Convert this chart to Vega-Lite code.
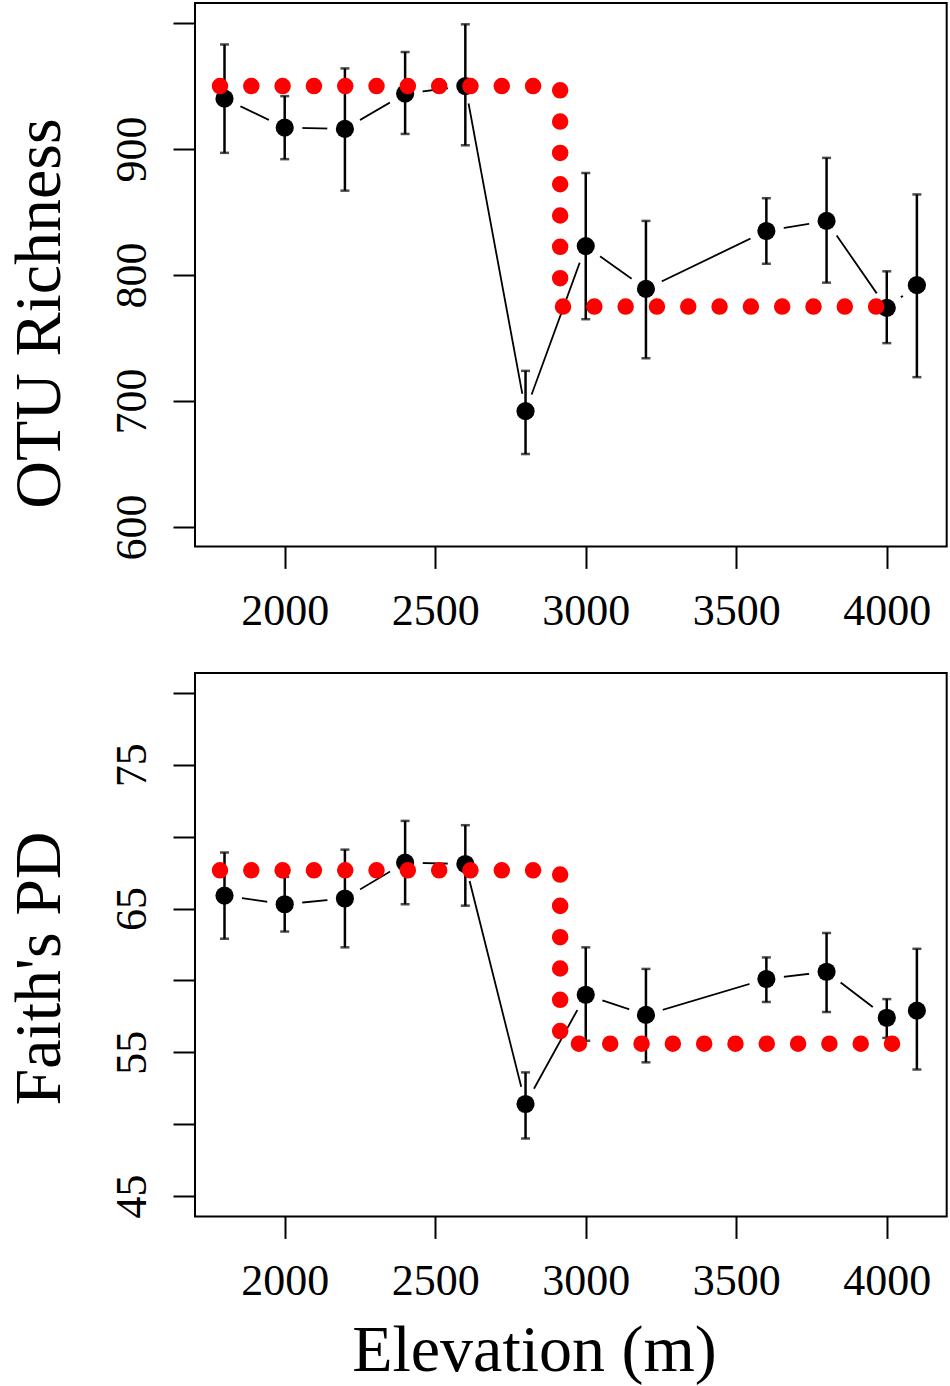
{
  "$schema": "https://vega.github.io/schema/vega-lite/v6.json",
  "background": "white",
  "padding": {"left": 6, "top": 2, "right": 2, "bottom": 0},
  "datasets": {
    "otu": [
      {"elev": 1800, "val": 940, "lo": 897, "hi": 983},
      {"elev": 2000, "val": 917, "lo": 892, "hi": 942},
      {"elev": 2200, "val": 916, "lo": 867, "hi": 964},
      {"elev": 2400, "val": 944, "lo": 912, "hi": 977},
      {"elev": 2600, "val": 950, "lo": 903, "hi": 999},
      {"elev": 2800, "val": 692, "lo": 658, "hi": 724},
      {"elev": 3000, "val": 823, "lo": 765, "hi": 881},
      {"elev": 3200, "val": 789, "lo": 734, "hi": 843},
      {"elev": 3600, "val": 835, "lo": 809, "hi": 861},
      {"elev": 3800, "val": 843, "lo": 794, "hi": 893},
      {"elev": 4000, "val": 774, "lo": 746, "hi": 803},
      {"elev": 4100, "val": 792, "lo": 719, "hi": 864}
    ],
    "pd": [
      {"elev": 1800, "val": 65.9, "lo": 62.9, "hi": 68.9},
      {"elev": 2000, "val": 65.3, "lo": 63.4, "hi": 67.2},
      {"elev": 2200, "val": 65.7, "lo": 62.3, "hi": 69.1},
      {"elev": 2400, "val": 68.2, "lo": 65.3, "hi": 71.1},
      {"elev": 2600, "val": 68.1, "lo": 65.2, "hi": 70.8},
      {"elev": 2800, "val": 51.4, "lo": 49.0, "hi": 53.6},
      {"elev": 3000, "val": 59.0, "lo": 55.8, "hi": 62.3},
      {"elev": 3200, "val": 57.6, "lo": 54.3, "hi": 60.8},
      {"elev": 3600, "val": 60.1, "lo": 58.5, "hi": 61.6},
      {"elev": 3800, "val": 60.6, "lo": 57.8, "hi": 63.3},
      {"elev": 4000, "val": 57.4, "lo": 56.0, "hi": 58.7},
      {"elev": 4100, "val": 57.9, "lo": 53.8, "hi": 62.2}
    ],
    "otustep": [
      {"step": 1, "elev": 1785, "val": 950},
      {"step": 2, "elev": 2915, "val": 950},
      {"step": 3, "elev": 2915, "val": 775},
      {"step": 4, "elev": 4000, "val": 775}
    ],
    "pdstep": [
      {"step": 1, "elev": 1785, "val": 67.66},
      {"step": 2, "elev": 2915, "val": 67.66},
      {"step": 3, "elev": 2915, "val": 55.6},
      {"step": 4, "elev": 4040, "val": 55.6}
    ]
  },
  "vconcat": [
    {
      "width": 751.7,
      "height": 543.4,
      "encoding": {
        "x": {
          "field": "elev",
          "type": "quantitative",
          "scale": {"domain": [1702, 4199], "nice": false, "zero": false},
          "axis": {"values": [2000, 2500, 3000, 3500, 4000], "format": "d", "title": null}
        }
      },
      "layer": [
        {
          "data": {"name": "otu"},
          "mark": {"type": "line", "color": "black", "strokeWidth": 1.8},
          "encoding": {
            "y": {
              "field": "val",
              "type": "quantitative",
              "title": "OTU Richness",
              "scale": {"domain": [584.7, 1015.9], "nice": false, "zero": false},
              "axis": {
                "values": [600, 700, 800, 900, 1000],
                "labelExpr": "datum.value == 1000 ? '' : datum.label",
                "titleY": 310
              }
            }
          }
        },
        {
          "data": {"name": "otu"},
          "mark": {"type": "circle", "color": "white", "opacity": 1, "size": 1250},
          "encoding": {"y": {"field": "val", "type": "quantitative", "title": "OTU Richness"}}
        },
        {
          "data": {"name": "otu"},
          "mark": {
            "type": "errorbar",
            "color": "black",
            "rule": {"strokeWidth": 2.5},
            "ticks": {"size": 9, "thickness": 2.5, "color": "black"}
          },
          "encoding": {
            "y": {"field": "lo", "type": "quantitative", "title": "OTU Richness"},
            "y2": {"field": "hi"}
          }
        },
        {
          "data": {"name": "otu"},
          "mark": {"type": "circle", "color": "black", "opacity": 1, "size": 330},
          "encoding": {"y": {"field": "val", "type": "quantitative", "title": "OTU Richness"}}
        },
        {
          "data": {"name": "otustep"},
          "mark": {
            "type": "line",
            "color": "#ff0000",
            "strokeWidth": 16.5,
            "strokeCap": "round",
            "strokeDash": [0.01, 31.3]
          },
          "encoding": {
            "y": {"field": "val", "type": "quantitative", "title": "OTU Richness"},
            "order": {"field": "step"}
          }
        }
      ]
    },
    {
      "width": 751.7,
      "height": 543.4,
      "encoding": {
        "x": {
          "field": "elev",
          "type": "quantitative",
          "scale": {"domain": [1702, 4199], "nice": false, "zero": false},
          "axis": {
            "values": [2000, 2500, 3000, 3500, 4000],
            "format": "d",
            "title": "Elevation (m)",
            "titleX": 339,
            "titleY": 154,
            "titleAlign": "center",
            "titleBaseline": "alphabetic"
          }
        }
      },
      "layer": [
        {
          "data": {"name": "pd"},
          "mark": {"type": "line", "color": "black", "strokeWidth": 1.8},
          "encoding": {
            "y": {
              "field": "val",
              "type": "quantitative",
              "title": "Faith's PD",
              "scale": {"domain": [43.58, 81.39], "nice": false, "zero": false},
              "axis": {
                "values": [45, 50, 55, 60, 65, 70, 75, 80],
                "labelExpr": "datum.value % 10 == 5 ? datum.label : ''",
                "titleY": 295
              }
            }
          }
        },
        {
          "data": {"name": "pd"},
          "mark": {"type": "circle", "color": "white", "opacity": 1, "size": 1250},
          "encoding": {"y": {"field": "val", "type": "quantitative", "title": "Faith's PD"}}
        },
        {
          "data": {"name": "pd"},
          "mark": {
            "type": "errorbar",
            "color": "black",
            "rule": {"strokeWidth": 2.5},
            "ticks": {"size": 9, "thickness": 2.5, "color": "black"}
          },
          "encoding": {
            "y": {"field": "lo", "type": "quantitative", "title": "Faith's PD"},
            "y2": {"field": "hi"}
          }
        },
        {
          "data": {"name": "pd"},
          "mark": {"type": "circle", "color": "black", "opacity": 1, "size": 330},
          "encoding": {"y": {"field": "val", "type": "quantitative", "title": "Faith's PD"}}
        },
        {
          "data": {"name": "pdstep"},
          "mark": {
            "type": "line",
            "color": "#ff0000",
            "strokeWidth": 16.5,
            "strokeCap": "round",
            "strokeDash": [0.01, 31.3]
          },
          "encoding": {
            "y": {"field": "val", "type": "quantitative", "title": "Faith's PD"},
            "order": {"field": "step"}
          }
        }
      ]
    }
  ],
  "spacing": 126,
  "bounds": "flush",
  "config": {
    "view": {"stroke": "black", "strokeWidth": 2},
    "axis": {
      "grid": false,
      "domain": false,
      "ticks": true,
      "tickColor": "black",
      "tickWidth": 2,
      "tickSize": 22,
      "labelFont": "Liberation Serif",
      "labelFontSize": 44,
      "labelColor": "black",
      "labelOverlap": false,
      "labelFlush": false,
      "titleFont": "Liberation Serif",
      "titleFontSize": 66,
      "titleFontWeight": "normal",
      "titleColor": "black"
    },
    "axisX": {
      "labelBaseline": "alphabetic",
      "labelPadding": 56
    },
    "axisY": {
      "labelAngle": 270,
      "labelAlign": "center",
      "labelBaseline": "alphabetic",
      "labelPadding": 27,
      "titleAngle": 270,
      "titleX": -135,
      "titleAlign": "center",
      "titleBaseline": "alphabetic"
    }
  }
}
